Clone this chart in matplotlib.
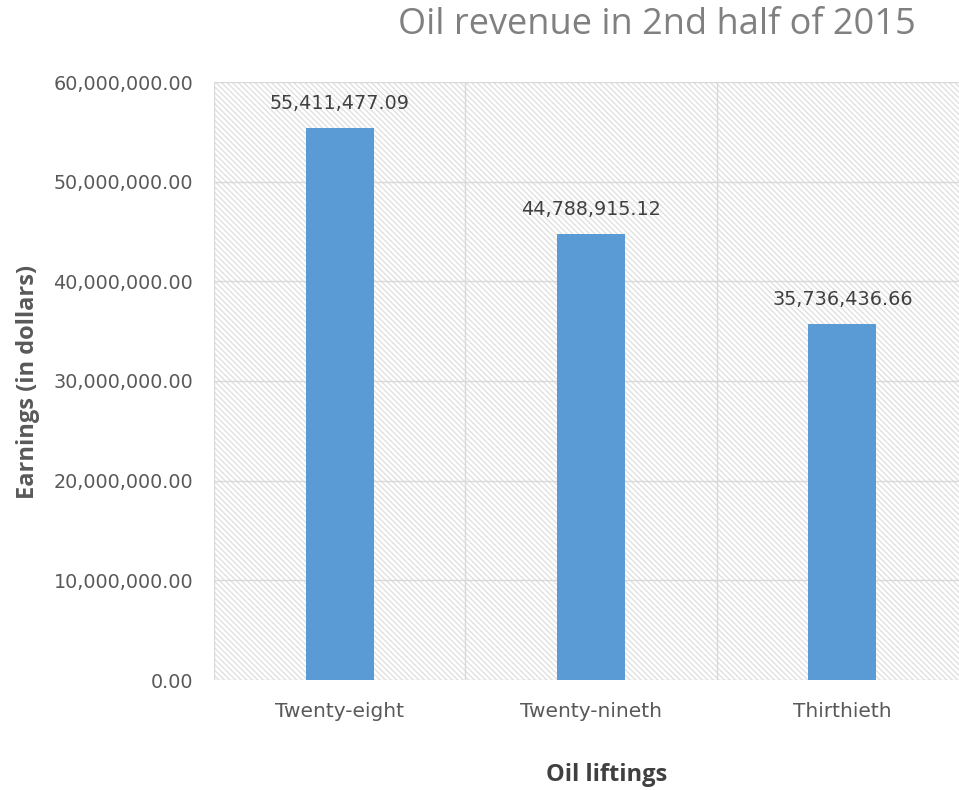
import matplotlib.pyplot as plt
from matplotlib.patches import Rectangle
from matplotlib.ticker import FuncFormatter

categories = ["Twenty-eight", "Twenty-nineth", "Thirthieth"]
earnings = [55411477.09, 44788915.12, 35736436.66]
yticks = [0, 10000000, 20000000, 30000000, 40000000, 50000000, 60000000]

plt.rcParams['font.family'] = ['Open Sans', 'DejaVu Sans']
plt.rcParams['hatch.color'] = '#dedede'
plt.rcParams['hatch.linewidth'] = 0.9

fig = plt.figure(figsize=(9.59, 7.9), dpi=100)
ax = fig.add_axes([214 / 959, 1 - 680 / 790, 754 / 959, 598 / 790])

# hatched plot background
ax.add_patch(Rectangle((0, 0), 1, 1, transform=ax.transAxes, facecolor='white',
                       edgecolor='#dedede', hatch='\\' * 6, linewidth=0, zorder=0))

x = list(range(len(categories)))
bars = ax.bar(x, earnings, width=0.27, color='#5b9bd5', zorder=3)

for xi, v in zip(x, earnings):
    ax.text(xi, v + 1500000, f"{v:,.2f}", ha='center', va='bottom',
            fontsize=13.8, family='DejaVu Sans', color='#404040', zorder=4)

ax.set_xlim(-0.5, len(categories) - 0.5)
ax.set_ylim(0, 60000000)
ax.set_yticks(yticks)
ax.yaxis.set_major_formatter(FuncFormatter(lambda v, p: f"{v:,.2f}"))
ax.set_xticks(x)
ax.set_xticklabels(categories)

# gridlines: horizontal at ticks, vertical at category boundaries
for yt in yticks:
    ax.axhline(yt, color='#d9d9d9', linewidth=1.0, zorder=1)
for b in [-0.5, 0.5, 1.5, 2.5]:
    ax.axvline(b, color='#d9d9d9', linewidth=1.0, zorder=1)

for s in ax.spines.values():
    s.set_visible(False)
ax.tick_params(axis='both', length=0, colors='#595959')
ax.tick_params(axis='x', pad=16, labelsize=14.5)
ax.tick_params(axis='y', pad=15, labelsize=13.8)
for lbl in ax.get_xticklabels() + ax.get_yticklabels():
    lbl.set_family('DejaVu Sans')

fig.text(28 / 959, 1 - 382 / 790, "Earnings (in dollars)", rotation=90,
         ha='center', va='center', fontsize=17, fontweight='bold', color='#595959')
fig.text(607 / 959, 1 - 775 / 790, "Oil liftings", ha='center', va='center',
         fontsize=17, fontweight='bold', color='#404040')
fig.text(657 / 959, 1 - 25 / 790, "Oil revenue in 2nd half of 2015", ha='center',
         va='center', fontsize=26, color='#808080')

fig.savefig("out.png", dpi=100)
